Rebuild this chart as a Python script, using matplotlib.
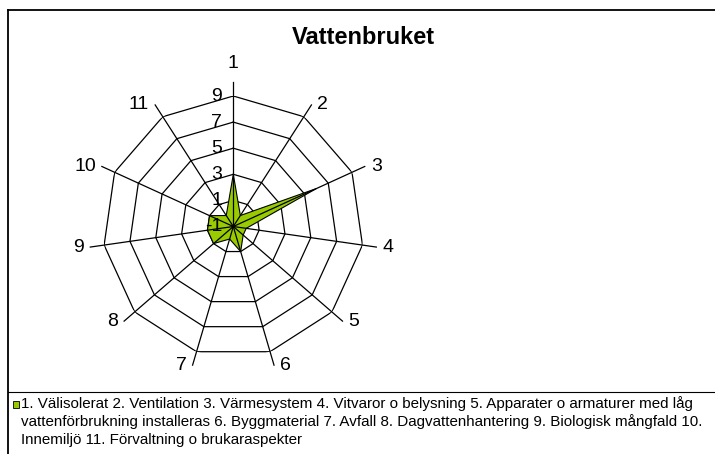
"""Radar chart 'Vattenbruket' recreated with matplotlib"""

import numpy as np
import matplotlib
matplotlib.use("Agg")
import matplotlib.pyplot as plt
from matplotlib.lines import Line2D
from matplotlib.patches import Rectangle

plt.rcParams["font.family"] = ["Liberation Sans", "DejaVu Sans"]

# data
categories = ["1", "2", "3", "4", "5", "6", "7", "8", "9", "10", "11"]
values = [3, 0, 6, 0, 0, 1, 0, 1, 1, 1, 0]
ring_values = [1, 3, 5, 7, 9]
tick_labels = ["-1", "1", "3", "5", "7", "9"]
r_min, r_max = -1, 9
title = "Vattenbruket"
legend_lines = [
    "1. Välisolerat 2. Ventilation 3. Värmesystem 4. Vitvaror o belysning 5. Apparater o armaturer med låg",
    "vattenförbrukning installeras 6. Byggmaterial 7. Avfall 8. Dagvattenhantering 9. Biologisk mångfald 10.",
    "Innemiljö 11. Förvaltning o brukaraspekter",
]

W, H = 715, 454
fill_color = "#99CC00"

fig = plt.figure(figsize=(W / 100, H / 100), dpi=100)
fig.patch.set_facecolor("white")

# polar axes: centre (233, 226.5) px, radius 130.5 px for r = 9
cx, cy, rad = 233.3, 226.5, 130.5
ax = fig.add_axes(
    [(cx - rad) / W, (H - cy - rad) / H, 2 * rad / W, 2 * rad / H],
    projection="polar",
)
ax.set_theta_zero_location("N")
ax.set_theta_direction(-1)
ax.set_ylim(r_min, r_max)
ax.grid(False)
ax.spines["polar"].set_visible(False)
ax.set_xticks([])
ax.set_yticks([])
ax.patch.set_visible(False)

n = len(categories)
angles = np.arange(n) * 2 * np.pi / n
closed_angles = np.append(angles, angles[0])

# ring polygons (behind the fill)
for v in ring_values:
    ax.plot(closed_angles, [v] * (n + 1), color="black", lw=0.9, zorder=1)

# series
closed_values = np.append(values, values[0])
ax.fill(closed_angles, closed_values, facecolor=fill_color, edgecolor="black",
        lw=0.8, zorder=2)

# radial axis lines (on top of the fill), a little past the outer ring
px_per_unit = rad / (r_max - r_min)
r_axis_end = r_max + 14 / px_per_unit
for a in angles:
    ax.plot([a, a], [r_min, r_axis_end], color="black", lw=0.9, zorder=3,
            clip_on=False)

# category labels beside the end of each axis line (Excel style)
for a, lab in zip(angles, categories):
    s = np.sin(a)
    if abs(s) < 1e-6:
        offset, ha = (0, 19), "center"
    elif s > 0:
        offset, ha = (6, 0), "left"
    else:
        offset, ha = (-6, 0), "right"
    ax.annotate(lab, xy=(a, r_axis_end), xytext=offset,
                textcoords="offset pixels", ha=ha, va="center",
                fontsize=14, annotation_clip=False)

# value labels along the first axis
for lab in tick_labels:
    ax.annotate(lab, xy=(0, float(lab)), xytext=(-11, 0),
                textcoords="offset pixels", ha="right", va="center",
                fontsize=14, zorder=4)

# title
fig.text(363 / W, 1 - 38 / H, title, ha="center", va="center",
         fontsize=17, fontweight="bold")

# chart border and legend separator
fig.add_artist(Line2D([7.5 / W, 7.5 / W], [1 - 9.5 / H, 0], color="black",
                      lw=1.3, transform=fig.transFigure))
fig.add_artist(Line2D([7.5 / W, 1], [1 - 9.5 / H, 1 - 9.5 / H], color="black",
                      lw=1.3, transform=fig.transFigure))
fig.add_artist(Line2D([7.5 / W, 1], [1 - 392 / H, 1 - 392 / H], color="black",
                      lw=0.8, transform=fig.transFigure))

# legend
fig.add_artist(Rectangle((12.5 / W, 1 - 407.5 / H), 6.5 / W, 6.5 / H,
                         facecolor=fill_color, edgecolor="black", lw=0.6,
                         transform=fig.transFigure))
for k, line in enumerate(legend_lines):
    fig.text(21 / W, 1 - (404 + 18 * k) / H, line, ha="left", va="center",
             fontsize=10.9)

fig.savefig("out.png", dpi=100)
